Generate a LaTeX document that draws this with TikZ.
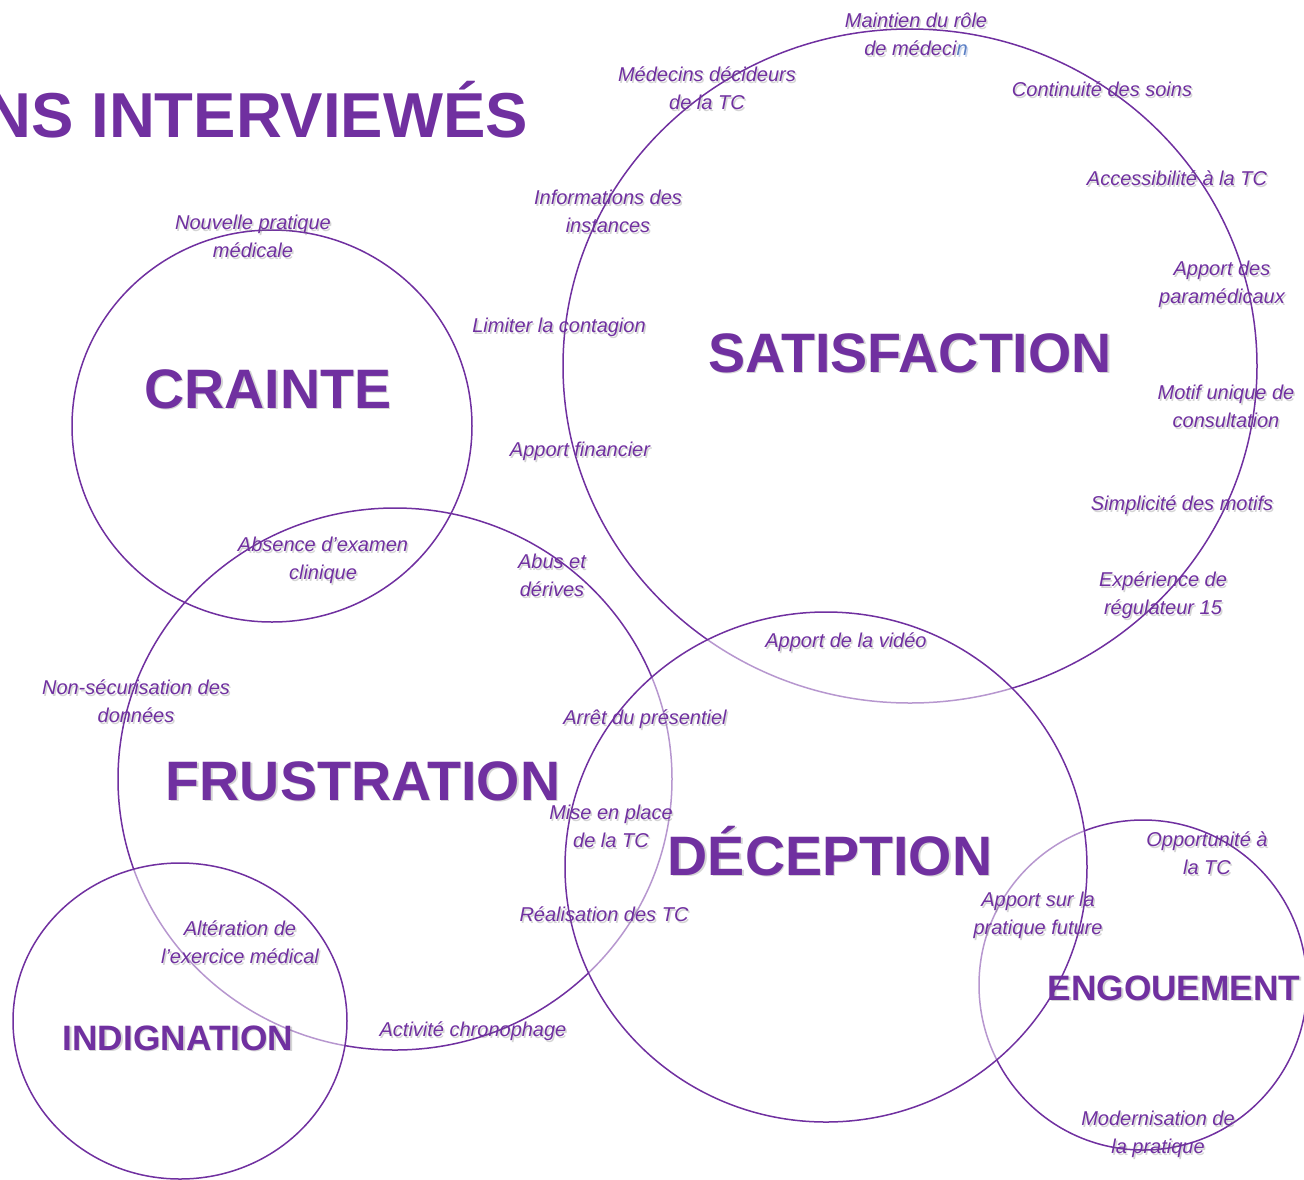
\documentclass[tikz,border=0pt]{standalone}
\usepackage{fontspec}
\setmainfont{Liberation Sans}
\definecolor{purp}{HTML}{7030A0}
\definecolor{bluen}{HTML}{5B7FC4}
\newcommand\twoline[2]{\strut#1\\\strut#2}
\newcommand\shnode[4]{%
  \node[#1, text=black!55, opacity=0.3, xshift=1.5pt, yshift=-1.5pt] (#2-s) at (#3) {#4};
  \node[#1] (#2) at (#3) {#4};}
\tikzset{
  ring/.style={draw=purp, line width=1.5pt, fill=white, fill opacity=0.5},
  ringplain/.style={draw=purp, line width=1.5pt},
  lab/.style={text=purp, font=\itshape\fontsize{20}{28}\selectfont, align=center, inner sep=0pt, execute at begin node=\strut, yshift=-2pt},
  big/.style={text=purp, font=\bfseries\fontsize{55.6}{60}\selectfont, inner sep=0pt, anchor=base},
  mid/.style={text=purp, font=\bfseries\fontsize{35.3}{40}\selectfont, inner sep=0pt, anchor=base},
  titre/.style={text=purp, font=\bfseries\fontsize{63.5}{70}\selectfont, inner sep=0pt, anchor=base east}
}
\begin{document}
\begin{tikzpicture}[x=1pt,y=-1pt]
\useasboundingbox (0,0) rectangle (1304,1179);
\clip (0,0) rectangle (1304,1179);
\fill[white] (0,0) rectangle (1304,1179);
% circles
\draw[ring] (910,366) ellipse [x radius=347, y radius=337];
\draw[ring] (1143,985) ellipse [x radius=164, y radius=165];
\draw[ringplain] (272,426) ellipse [x radius=200, y radius=196];
\draw[ringplain] (395,779) ellipse [x radius=277, y radius=271];
\draw[ring] (826,867) ellipse [x radius=261, y radius=255];
\draw[ring] (180,1021) ellipse [x radius=167, y radius=158];
% title
\node[titre] (title) at (528,137) {NS INTERVIEWÉS};
% big labels
\shnode{big}{satis}{910,372}{SATISFACTION}
\shnode{big}{crainte}{268,408}{CRAINTE}
\shnode{big}{frust}{363,800}{FRUSTRATION}
\shnode{big}{decep}{830,875}{DÉCEPTION}
\shnode{mid}{indig}{178,1050}{INDIGNATION}
\shnode{mid}{engou}{1174,1000}{ENGOUEMENT}
% small labels
\shnode{lab}{maint}{916,34}{\twoline{Maintien du rôle}{de médeci\textcolor{bluen}{n}}}
\shnode{lab}{medd}{707,88}{\twoline{Médecins décideurs}{de la TC}}
\shnode{lab}{cont}{1102,89}{Continuité des soins}
\shnode{lab}{acc}{1177,178}{Accessibilité à la TC}
\shnode{lab}{appar}{1222,282}{\twoline{Apport des}{paramédicaux}}
\shnode{lab}{info}{608,211}{\twoline{Informations des}{instances}}
\shnode{lab}{nouv}{253,236}{\twoline{Nouvelle pratique}{médicale}}
\shnode{lab}{limit}{559,325}{Limiter la contagion}
\shnode{lab}{motif}{1226,406}{\twoline{Motif unique de}{consultation}}
\shnode{lab}{fin}{580,449}{Apport financier}
\shnode{lab}{simp}{1182,503}{Simplicité des motifs}
\shnode{lab}{exper}{1163,593}{\twoline{Expérience de}{régulateur 15}}
\shnode{lab}{absen}{323,558}{\twoline{Absence d’examen}{clinique}}
\shnode{lab}{abus}{552,575}{\twoline{Abus et}{dérives}}
\shnode{lab}{video}{846,640}{Apport de la vidéo}
\shnode{lab}{nonsec}{136,701}{\twoline{Non-sécurisation des}{données}}
\shnode{lab}{arret}{645,717}{Arrêt du présentiel}
\shnode{lab}{mise}{611,826}{\twoline{Mise en place}{de la TC}}
\shnode{lab}{realis}{604,914}{Réalisation des TC}
\shnode{lab}{opp}{1207,853}{\twoline{Opportunité à}{la TC}}
\shnode{lab}{apsur}{1038,913}{\twoline{Apport sur la}{pratique future}}
\shnode{lab}{alter}{240,942}{\twoline{Altération de}{l’exercice médical}}
\shnode{lab}{activ}{473,1029}{Activité chronophage}
\shnode{lab}{modern}{1158,1132}{\twoline{Modernisation de}{la pratique}}
\end{tikzpicture}
\end{document}
